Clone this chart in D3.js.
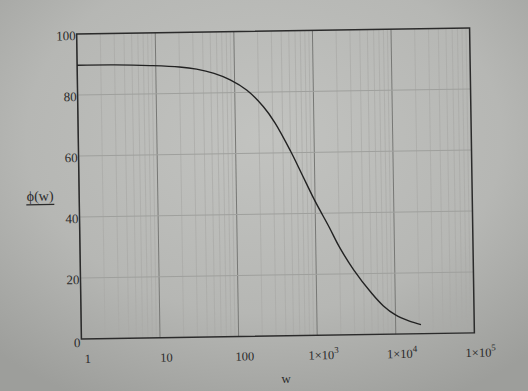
<!DOCTYPE html>
<html>
<head>
<meta charset="utf-8">
<script src="https://cdn.jsdelivr.net/npm/d3@7"></script>
<style>
  html, body { margin: 0; padding: 0; background: #b4b5b2; }
  svg { display: block; }
</style>
</head>
<body>
<svg width="528" height="391"></svg>
<script>
(function () {

  // values: w (log axis) and phi(w) in degrees
  var wValues   = [1, 3, 8.5, 20, 33, 55, 88, 143, 230, 320, 500, 700, 1000, 1500, 2000, 3000, 5000, 7000, 10000, 15000, 21000]
  var phiValues = [89.8, 89.7, 89.3, 88.7, 87.9, 86.4, 84.2, 80.7, 75.2, 69.9, 60.5, 52.5, 44.0, 35.3, 28.8, 21.3, 13.6, 9.4, 6.3, 4.2, 3.0]

  var xTicks = [1, 10, 100, 1000, 10000, 100000]
  var xTickLabels = [['1', ''], ['10', ''], ['100', ''], ['1×10', '3'], ['1×10', '4'], ['1×10', '5']]
  var yTicks = [0, 20, 40, 60, 80, 100]

  var left = 79, right = 472, top = 31, bottom = 336

  var svg = d3.select('svg')

  // photo-ish background: lighter in the middle, darker at the corners
  var defs = svg.append('defs')
  var grad = defs.append('radialGradient').attr('id', 'bg')
    .attr('cx', '50%').attr('cy', '35%').attr('r', '75%')
  grad.append('stop').attr('offset', '0%').attr('stop-color', '#c2c3c0')
  grad.append('stop').attr('offset', '60%').attr('stop-color', '#b6b7b4')
  grad.append('stop').attr('offset', '100%').attr('stop-color', '#9d9e9b')
  svg.append('rect').attr('width', 528).attr('height', 391).attr('fill', 'url(#bg)')

  var x = d3.scaleLog().domain([1, 100000]).range([left, right])
  var y = d3.scaleLinear().domain([0, 100]).range([bottom, top])

  // the page in the photo is turned a little
  var g = svg.append('g').attr('transform', 'rotate(-0.9, 275, 183)')

  // minor + major vertical grid
  var gridW = []
  for (var d = 1; d < 100000; d *= 10) {
    for (var k = 1; k < 10; k++) gridW.push(d * k)
  }
  g.selectAll('.vgrid')
    .data(gridW)
    .enter().append('line')
    .attr('x1', w => x(w)).attr('x2', w => x(w))
    .attr('y1', top).attr('y2', bottom)
    .attr('stroke', w => (Math.log10(w) % 1 === 0) ? '#777875' : '#a9aaa7')
    .attr('stroke-width', w => (Math.log10(w) % 1 === 0) ? 1 : 0.7)

  g.selectAll('.hgrid')
    .data([20, 40, 60, 80])
    .enter().append('line')
    .attr('x1', left).attr('x2', right)
    .attr('y1', v => y(v)).attr('y2', v => y(v))
    .attr('stroke', '#9fa09d')
    .attr('stroke-width', 1)

  // frame
  g.append('rect')
    .attr('x', left).attr('y', top)
    .attr('width', right - left).attr('height', bottom - top)
    .attr('fill', 'none')
    .attr('stroke', '#2b2b2b')
    .attr('stroke-width', 1.5)

  // the curve
  var line = d3.line()
    .x((d, i) => x(wValues[i]))
    .y(d => y(d))
    .curve(d3.curveCatmullRom.alpha(0.5))

  g.append('path')
    .datum(phiValues)
    .attr('d', line)
    .attr('fill', 'none')
    .attr('stroke', '#222')
    .attr('stroke-width', 1.4)

  // y tick labels
  g.selectAll('.ylab')
    .data(yTicks)
    .enter().append('text')
    .attr('x', left - 1)
    .attr('y', v => y(v) + (v === 0 ? 8 : 6))
    .attr('text-anchor', 'end')
    .attr('font-family', 'Liberation Serif')
    .attr('font-size', 13)
    .attr('fill', '#2a2a2a')
    .text(v => v)

  // x tick labels
  var xl = g.selectAll('.xlab')
    .data(xTicks)
    .enter().append('text')
    .attr('x', w => x(w) + 6)
    .attr('y', bottom + 24)
    .attr('text-anchor', 'middle')
    .attr('font-family', 'Liberation Serif')
    .attr('font-size', 12.5)
    .attr('fill', '#2a2a2a')
  xl.append('tspan').text((w, i) => xTickLabels[i][0])
  xl.append('tspan')
    .attr('dy', -6)
    .attr('font-size', 9)
    .text((w, i) => xTickLabels[i][1])

  // axis titles
  g.append('text')
    .attr('x', 283).attr('y', 383)
    .attr('text-anchor', 'middle')
    .attr('font-family', 'Liberation Serif')
    .attr('font-size', 13)
    .attr('fill', '#2a2a2a')
    .text('w')

  g.append('text')
    .attr('x', 40).attr('y', 197)
    .attr('text-anchor', 'middle')
    .attr('font-family', 'Liberation Serif')
    .attr('font-size', 14)
    .attr('fill', '#2a2a2a')
    .text('ϕ(w)')

  g.append('line')
    .attr('x1', 26).attr('x2', 54)
    .attr('y1', 201).attr('y2', 201)
    .attr('stroke', '#2a2a2a')
    .attr('stroke-width', 1.3)

})()
</script>
</body>
</html>
